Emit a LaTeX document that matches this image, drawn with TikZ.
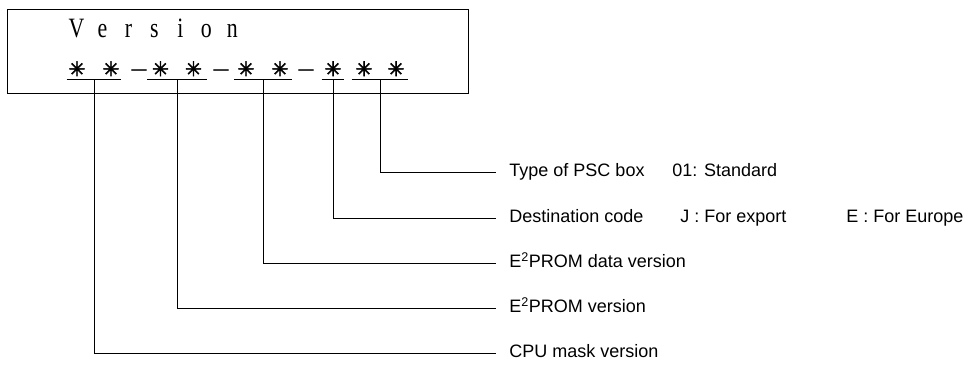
\documentclass[tikz,border=0pt]{standalone}
\usepackage{fontspec}
\usepackage{graphicx}
\setmainfont{Liberation Sans}
\newfontfamily\serifv{Liberation Serif}
\newfontfamily\symf[FakeBold=2.5]{DejaVu Sans}
\newcommand\vlet[1]{\makebox[26pt]{\scalebox{0.78}[1]{#1}}}
\newcommand\mystar{{\symf\fontsize{20}{20}\selectfont ✳}}
\newcommand\twostar[2]{\hbox to #2{\hss\makebox[0pt]{\mystar}\hskip#1\makebox[0pt]{\mystar}\hss}}
\newcommand\onestar[1]{\hbox to #1{\hss\mystar\hss}}
\begin{document}
\begin{tikzpicture}[x=1pt,y=-1pt,line width=0.9pt,
  grp/.style={inner xsep=0pt, inner ysep=2.5pt, text depth=0pt, anchor=south},
  dsh/.style={inner sep=0pt, anchor=base, font=\serifv\fontsize{30}{30}\selectfont},
  lbl/.style={inner xsep=13pt, inner ysep=0pt, text height=13pt, text depth=4pt, anchor=west, font=\fontsize{18}{20}\selectfont},
  lblx/.style={lbl, inner xsep=0pt},
  link/.style={line width=0.9pt}]
\useasboundingbox (0,0) rectangle (977,373);
\node[draw, line width=1.1pt, inner sep=0pt, minimum width=461pt, minimum height=84pt, anchor=north west] (frame) at (7,9) {};
\node[inner sep=0pt, anchor=base west, font=\serifv\fontsize{28}{28}\selectfont] (ver) at (63,37) {\vlet{V}\vlet{e}\vlet{r}\vlet{s}\vlet{i}\vlet{o}\vlet{n}};
% star groups
\node[grp] (g1) at (94,79) {\twostar{34pt}{54pt}};
\node[grp] (g2) at (177,79) {\twostar{33pt}{59pt}};
\node[grp] (g3) at (263,79) {\twostar{34pt}{57pt}};
\node[grp] (g4) at (333,79) {\onestar{22pt}};
\node[grp] (g5) at (380,79) {\twostar{32pt}{56pt}};
\node[dsh] (d1) at (139,77) {–};
\node[dsh] (d2) at (221,77) {–};
\node[dsh] (d3) at (306,77) {–};
\foreach \g in {g1,g2,g3,g4,g5} \draw[link] (\g.south west) -- (\g.south east);
% labels
\node[lbl] (tp) at (496,172) {Type of PSC box};
\node[lblx] (std) at (672,172) {01: Standard};
\node[lbl] (dst) at (496,218) {Destination code};
\node[lblx] (jx) at (680,218) {J : For export};
\node[lblx] (eu) at (846,218) {E : For Europe};
\node[lbl] (edv) at (496,263) {E\textsuperscript{2}PROM data version};
\node[lbl] (ev) at (496,308) {E\textsuperscript{2}PROM version};
\node[lbl] (cpu) at (496,353) {CPU mask version};
% connectors
\draw[link] (g5.south) |- (tp.west);
\draw[link] (g4.south) |- (dst.west);
\draw[link] (g3.south) |- (edv.west);
\draw[link] (g2.south) |- (ev.west);
\draw[link] (g1.south) |- (cpu.west);
\end{tikzpicture}
\end{document}
